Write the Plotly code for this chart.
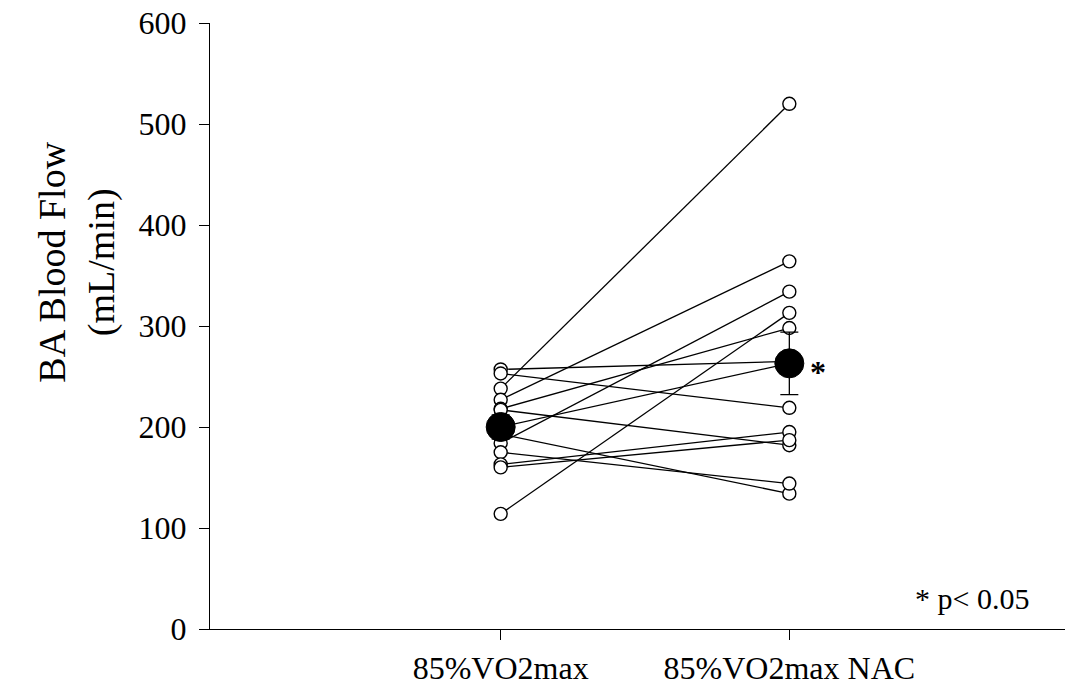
import plotly.graph_objects as go

# Data
conditions = ["85%VO2max", "85%VO2max NAC"]
control = [257, 253, 238, 227, 218, 217, 184, 193, 175, 163, 160, 114]
nac = [265, 219, 520, 364, 298, 182, 334, 134, 144, 195, 187, 313]
group_mean = [200, 263]
group_se = [12, 31]

xpos = [0, 1]

fig = go.Figure()

# subject lines
lx, ly = [], []
for a, b in zip(control, nac):
    lx += [xpos[0], xpos[1], None]
    ly += [a, b, None]
fig.add_trace(go.Scatter(x=lx, y=ly, mode="lines",
                         line=dict(color="black", width=1.3),
                         hoverinfo="skip", showlegend=False))

# mean line
fig.add_trace(go.Scatter(x=xpos, y=group_mean, mode="lines",
                         line=dict(color="black", width=1.3),
                         hoverinfo="skip", showlegend=False))

# subject points
px = [xpos[0]] * len(control) + [xpos[1]] * len(nac)
py = control + nac
fig.add_trace(go.Scatter(x=px, y=py, mode="markers",
                         marker=dict(symbol="circle", size=13, color="white",
                                     line=dict(color="black", width=1.4)),
                         showlegend=False))

# group means with SE
fig.add_trace(go.Scatter(x=xpos, y=group_mean, mode="markers",
                         marker=dict(symbol="circle", size=29, color="black",
                                     line=dict(color="black", width=1)),
                         error_y=dict(type="data", array=group_se, visible=True,
                                      color="black", thickness=1.3, width=9),
                         showlegend=False))

serif = "Liberation Serif, Times New Roman, serif"

fig.add_annotation(x=1.1, y=group_mean[1], xref="x", yref="y", text="<b>*</b>",
                   showarrow=False, font=dict(family=serif, size=32, color="black"),
                   yshift=-9)
fig.add_annotation(x=1.633, y=30, xref="x", yref="y", text="* p< 0.05",
                   showarrow=False, font=dict(family=serif, size=30, color="black"))
fig.add_annotation(x=-0.156, y=0.6056, xref="paper", yref="paper",
                   text="BA Blood Flow<br>(mL/min)", textangle=-90,
                   showarrow=False, xanchor="center", yanchor="middle",
                   font=dict(family=serif, size=38, color="black"))

fig.update_layout(
    width=1068, height=696,
    margin=dict(l=210, r=3, t=23, b=67),
    plot_bgcolor="white", paper_bgcolor="white",
    font=dict(family=serif, size=32, color="black"),
    xaxis=dict(range=[-1.007, 1.955], tickmode="array", tickvals=xpos,
               ticktext=conditions, showgrid=False, zeroline=False,
               showline=True, linecolor="black", linewidth=1.3,
               ticks="outside", ticklen=10, tickcolor="black", tickwidth=1.3,
               tickfont=dict(family=serif, size=32)),
    yaxis=dict(range=[0, 600], tickvals=[0, 100, 200, 300, 400, 500, 600],
               showgrid=False, zeroline=False,
               showline=True, linecolor="black", linewidth=1.3,
               ticks="outside", ticklen=10, tickcolor="black", tickwidth=1.3,
               ticklabeloverflow="allow", ticklabelstandoff=6,
               tickfont=dict(family=serif, size=32)),
)

fig.write_html("out.html", config={"displayModeBar": False},
               post_script="document.body.style.margin='0';document.body.style.overflow='hidden';")
